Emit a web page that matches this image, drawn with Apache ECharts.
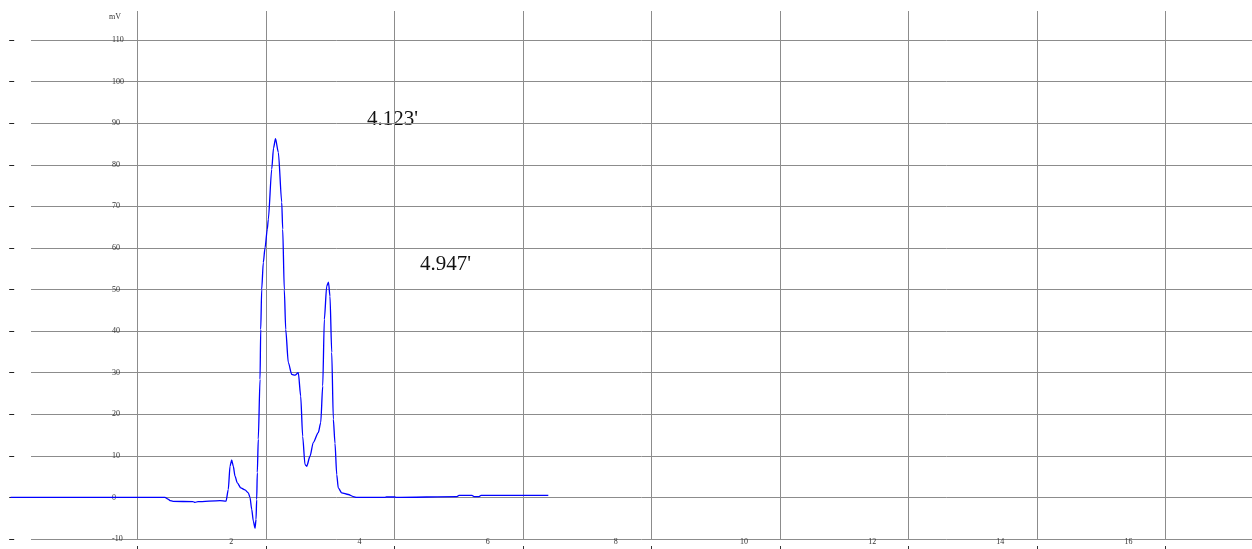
<!DOCTYPE html>
<html>
<head>
<meta charset="utf-8">
<title>Chromatogram</title>
<script src="https://cdn.jsdelivr.net/npm/echarts@6/dist/echarts.min.js"></script>
<style>
  html, body { margin: 0; padding: 0; background: #ffffff; }
  #chart { width: 1252px; height: 549px; }
</style>
</head>
<body>
<div id="chart"></div>
<script>
// Detector trace: retention time (min) and signal (mV)
const times = [
  0, 2.403, 2.45, 2.481, 2.528, 2.839, 2.870, 2.917, 3.259, 3.353,
  3.388, 3.415, 3.441, 3.466, 3.493, 3.529, 3.582, 3.648, 3.700, 3.726,
  3.753, 3.778, 3.804, 3.820, 3.830, 3.840, 3.855, 3.882, 3.893, 3.908,
  3.933, 3.960, 3.995, 4.011, 4.064, 4.092, 4.123, 4.167, 4.220, 4.235,
  4.260, 4.282, 4.322, 4.375, 4.427, 4.478, 4.515, 4.546, 4.582, 4.609,
  4.660, 4.711, 4.789, 4.827, 4.858, 4.883, 4.920, 4.947, 4.971, 4.998,
  5.023, 5.049, 5.076, 5.100, 5.153, 5.256, 5.334, 5.387, 5.827, 5.850,
  5.983, 6.000, 6.948, 6.979, 7.181, 7.213, 7.291, 7.322, 8.369
];
const signal = [
  0, 0, -0.4, -0.75, -0.95, -1.0, -1.2, -1.0, -0.75, -0.9,
  1.9, 7.5, 9.0, 7.5, 5.1, 3.5, 2.3, 1.8, 1.1, 0,
  -2.9, -5.7, -7.4, -5.3, -0.5, 6, 14, 28.4, 40.4, 50,
  56.5, 60, 64.5, 66.9, 78.9, 84, 86.3, 83, 71, 64.5,
  50, 40.4, 32.5, 29.6, 29.4, 30, 24.4, 14.7, 7.9, 7.5,
  9.9, 13.2, 15.6, 18, 26.8, 42.8, 50.8, 51.8, 48.4, 34.9,
  18.8, 13, 5.5, 2.3, 1.1, 0.7, 0.2, 0, 0, 0.1,
  0.1, 0, 0.2, 0.5, 0.5, 0.2, 0.2, 0.5, 0.5
];

// Peak retention-time annotations
const peakLabels = ["4.123'", "4.947'"];

// Axis ticks
const timeTickLabels = [2, 4, 6, 8, 10, 12, 14, 16];
const timeRuleValues = [2, 4, 6, 8, 10, 12, 14, 16, 18];
const mvTickValues = [-10, 0, 10, 20, 30, 40, 50, 60, 70, 80, 90, 100, 110];

const W = 1252;
const PX_PER_MIN = 64.25;
const RULE_COLOR = '#8c8c8c';
const TEXT_FONT = 'Liberation Serif';

const chart = echarts.init(document.getElementById('chart'), null, { renderer: 'canvas' });

const trace = times.map((t, i) => [t, signal[i]]);

const option = {
  animation: false,
  backgroundColor: '#ffffff',
  grid: [
    { left: 9.2, right: 0, top: 11, bottom: 10 },    // vertical rules and ticks
    { left: 31, right: 0, top: 40, bottom: 10 },     // horizontal rules and mV labels
    { left: 103.2, right: 0, top: 11, bottom: 10 },  // time labels
    { left: 10.6, right: 0, top: 11, bottom: 10 }    // trace
  ],
  xAxis: [
    {
      gridIndex: 0, type: 'value', min: 0, max: (W - 9.2) / PX_PER_MIN, interval: 2,
      position: 'bottom', offset: 7,
      axisLine: { show: false, onZero: false },
      axisTick: { show: true, length: 3, customValues: timeRuleValues, lineStyle: { color: '#333' } },
      axisLabel: { show: false },
      splitLine: { show: true, lineStyle: { color: RULE_COLOR, width: 1 } }
    },
    { gridIndex: 1, type: 'value', min: 0, max: 1, show: false },
    {
      gridIndex: 2, type: 'value', min: 0, max: (W - 103.2) / PX_PER_MIN, interval: 2,
      axisLine: { show: false, onZero: false },
      axisTick: { show: false },
      splitLine: { show: false },
      axisLabel: {
        margin: -1,
        color: '#333',
        fontFamily: TEXT_FONT,
        fontSize: 8,
        formatter: v => (timeTickLabels.indexOf(v) >= 0 ? String(v) : '')
      }
    },
    { gridIndex: 3, type: 'value', min: 0, max: (W - 10.6) / PX_PER_MIN, show: false }
  ],
  yAxis: [
    {
      gridIndex: 0, type: 'value', min: -10, max: 117, interval: 10,
      axisLine: { show: false, onZero: false },
      axisTick: { show: true, inside: true, length: 5, customValues: mvTickValues, lineStyle: { color: '#222' } },
      axisLabel: { show: false },
      splitLine: { show: false }
    },
    {
      gridIndex: 1, type: 'value', min: -10, max: 110, interval: 10,
      axisLine: { show: false, onZero: false },
      axisTick: { show: false },
      splitLine: { show: true, lineStyle: { color: RULE_COLOR, width: 1 } },
      axisLabel: {
        inside: true,
        margin: 81,
        color: '#333',
        fontFamily: TEXT_FONT,
        fontSize: 8,
        padding: [0, 0, 4, 0]
      }
    },
    { gridIndex: 2, type: 'value', min: -10, max: 117, show: false },
    { gridIndex: 3, type: 'value', min: -10, max: 117, show: false }
  ],
  series: [
    {
      type: 'line',
      xAxisIndex: 3,
      yAxisIndex: 3,
      data: trace,
      showSymbol: false,
      smooth: 0.25,
      smoothMonotone: 'x',
      lineStyle: { color: '#0000ff', width: 1.3 }
    }
  ],
  graphic: [
    {
      type: 'text', left: 109, top: 13,
      style: { text: 'mV', fill: '#333', font: '8px "Liberation Serif"' }
    },
    {
      type: 'text', x: 367, y: 119,
      style: { text: peakLabels[0], fill: '#111', font: '21px "Liberation Serif"', verticalAlign: 'middle' }
    },
    {
      type: 'text', x: 420, y: 264.5,
      style: { text: peakLabels[1], fill: '#111', font: '21px "Liberation Serif"', verticalAlign: 'middle' }
    }
  ]
};

chart.setOption(option);
</script>
</body>
</html>
